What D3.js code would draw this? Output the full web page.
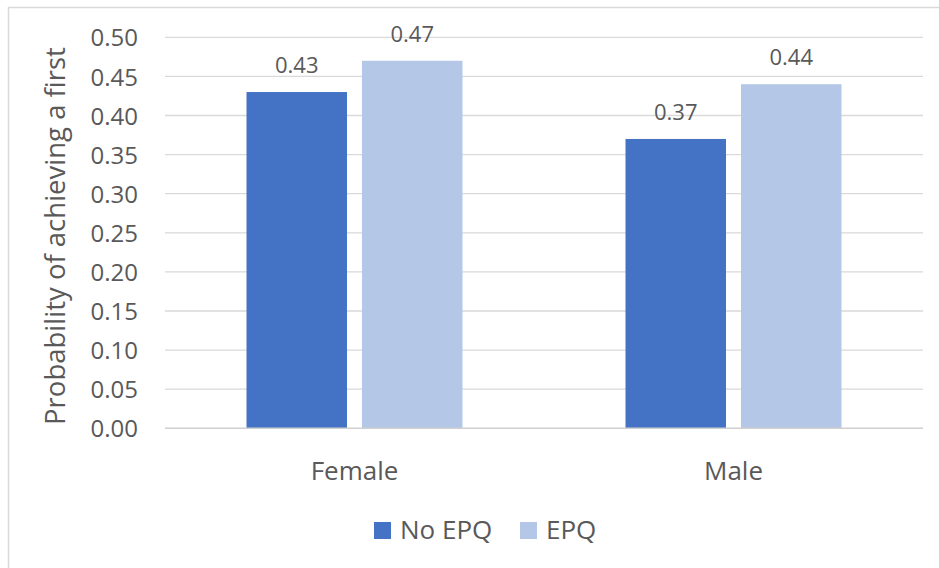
<!DOCTYPE html>
<html>
<head>
<meta charset="utf-8">
<script src="https://cdn.jsdelivr.net/npm/d3@7"></script>
<style>
  html, body { margin: 0; padding: 0; background: #fff; }
  svg text { font-family: "Open Sans", "Noto Sans", sans-serif; fill: #595959; }
</style>
</head>
<body>
<svg id="chart" width="939" height="568"></svg>
<script>
// Chart data
const categories = ["Female", "Male"];
const seriesNames = ["No EPQ", "EPQ"];
const noEpq = [0.43, 0.37];
const epq = [0.47, 0.44];
const yTicks = [0, 0.05, 0.10, 0.15, 0.20, 0.25, 0.30, 0.35, 0.40, 0.45, 0.50];
const colors = ["#4472C4", "#B4C7E7"];

const svg = d3.select("#chart");

// Outer chart frame
svg.append("rect")
  .attr("x", 8.5).attr("y", 7.5)
  .attr("width", 940).attr("height", 570)
  .attr("fill", "none").attr("stroke", "#d9d9d9").attr("stroke-width", 1.5);

const plot = { left: 165, right: 923, top: 37.3, bottom: 428.3 };

const x = d3.scaleBand().domain(categories).range([plot.left, plot.right]).paddingInner(0).paddingOuter(0);
const y = d3.scaleLinear().domain([0, 0.5]).range([plot.bottom, plot.top]);

// Horizontal gridlines
svg.append("g").selectAll("line").data(yTicks.filter(d => d > 0)).join("line")
  .attr("x1", plot.left).attr("x2", plot.right)
  .attr("y1", d => y(d)).attr("y2", d => y(d))
  .attr("stroke", "#d9d9d9").attr("stroke-width", 1.3);

// Y axis tick labels
const yAxis = d3.axisLeft(y).tickValues(yTicks).tickFormat(d3.format(".2f")).tickSize(0).tickPadding(0);
const yG = svg.append("g").attr("transform", `translate(138,0)`).call(yAxis);
yG.select(".domain").remove();
yG.selectAll("text").attr("font-size", 24).attr("fill", "#595959")
  .attr("font-family", "'Open Sans', sans-serif").attr("dy", "0.36em");

// Bars
const groupWidth = 216;
const inner = d3.scaleBand().domain(seriesNames).range([0, groupWidth]).paddingInner(0.13);
const rows = categories.map((c, i) => ({ cat: c, vals: [noEpq[i], epq[i]] }));

const groups = svg.append("g").selectAll("g").data(rows).join("g")
  .attr("transform", d => `translate(${x(d.cat) + x.bandwidth() / 2 - groupWidth / 2},0)`);

groups.selectAll("rect").data(d => d.vals.map((v, k) => ({ name: seriesNames[k], v, k }))).join("rect")
  .attr("x", d => inner(d.name))
  .attr("width", inner.bandwidth())
  .attr("y", d => y(d.v))
  .attr("height", d => y(0) - y(d.v))
  .attr("fill", d => colors[d.k]);

// Value labels above bars
groups.selectAll("text").data(d => d.vals.map((v, k) => ({ name: seriesNames[k], v, k }))).join("text")
  .attr("x", d => inner(d.name) + inner.bandwidth() / 2)
  .attr("y", d => y(d.v) - 19)
  .attr("text-anchor", "middle")
  .attr("font-size", 22)
  .text(d => d3.format(".2f")(d.v));

// Baseline axis
svg.append("line")
  .attr("x1", plot.left).attr("x2", plot.right)
  .attr("y1", y(0)).attr("y2", y(0))
  .attr("stroke", "#d0d0d0").attr("stroke-width", 1.5);

// Category labels
const xAxis = d3.axisBottom(x).tickSize(0).tickPadding(0);
const xG = svg.append("g").attr("transform", `translate(0,${plot.bottom})`).call(xAxis);
xG.select(".domain").remove();
xG.selectAll("text").attr("font-size", 26).attr("fill", "#595959")
  .attr("font-family", "'Open Sans', sans-serif").attr("dy", null).attr("y", 52);

// Y axis title
svg.append("text")
  .attr("transform", `translate(65,236) rotate(-90)`)
  .attr("text-anchor", "middle")
  .attr("font-size", 27.5)
  .text("Probability of achieving a first");

// Legend
const legendItems = [
  { name: seriesNames[0], color: colors[0], x: 374 },
  { name: seriesNames[1], color: colors[1], x: 520 }
];
const lg = svg.append("g").selectAll("g").data(legendItems).join("g")
  .attr("transform", d => `translate(${d.x},522)`);
lg.append("rect").attr("width", 17).attr("height", 17).attr("fill", d => d.color);
lg.append("text").attr("x", 26).attr("y", 17).attr("font-size", 26).text(d => d.name);
</script>
</body>
</html>
